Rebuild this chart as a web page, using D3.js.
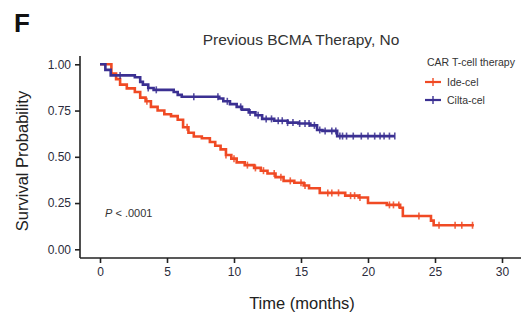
<!DOCTYPE html>
<html>
<head>
<meta charset="utf-8">
<script src="https://cdn.jsdelivr.net/npm/d3@7"></script>
<style>
  body { margin: 0; background: #fff; }
  svg { display: block; font-family: "Liberation Sans", Arial, sans-serif; }
</style>
</head>
<body>
<div id="chart"></div>
<script>
// step points [time, survival]
const ideSteps = [[0,1],[0.85,0.95],[1.2,0.92],[1.5,0.89],[2.0,0.87],[2.6,0.85],[3.0,0.82],[3.4,0.80],[3.8,0.77],
  [4.3,0.75],[4.8,0.73],[5.3,0.72],[5.8,0.70],[6.2,0.66],[6.6,0.63],[7.0,0.61],[7.6,0.60],[8.2,0.58],[8.6,0.56],
  [9.0,0.54],[9.4,0.51],[9.8,0.49],[10.2,0.47],[10.8,0.455],[11.5,0.44],[12.0,0.425],[12.5,0.41],[13.1,0.39],
  [13.7,0.37],[14.5,0.36],[15.2,0.345],[15.6,0.33],[16.4,0.305],[18.3,0.29],[19.3,0.28],[20.0,0.25],[21.4,0.24],
  [22.4,0.225],[22.6,0.18],[24.7,0.155],[24.9,0.13]];
const ideEnd = 27.9;
const ideCensor = [3.5,6.5,9.4,10.0,11.0,11.6,12.2,13.0,13.5,14.2,15.0,15.3,17.0,17.3,17.8,18.7,19.0,19.4,21.6,21.9,22.3,23.8,25.3,26.5,27.0,27.8];

const ciltaSteps = [[0,1],[0.4,0.97],[0.8,0.94],[2.6,0.93],[3.0,0.905],[3.2,0.89],[3.6,0.872],[4.0,0.862],[5.5,0.85],
  [5.8,0.835],[6.1,0.825],[8.9,0.815],[9.2,0.80],[9.7,0.785],[10.2,0.77],[10.6,0.755],[11.1,0.74],[11.6,0.725],
  [12.1,0.705],[13.0,0.695],[14.0,0.685],[14.8,0.68],[15.7,0.67],[16.2,0.645],[16.6,0.64],[17.7,0.612]];
const ciltaEnd = 22.0;
const ciltaCensor = [1.5,3.6,4.2,7.0,8.8,9.5,10.5,11.2,11.8,12.4,12.8,13.3,13.6,14.0,14.4,14.9,15.3,15.6,16.0,16.4,
  16.8,17.3,17.6,17.9,18.1,18.4,18.9,19.5,20.0,20.5,20.9,21.2,21.6,22.0];

const xTicks = [0, 5, 10, 15, 20, 25, 30];
const yTicks = [0, 0.25, 0.5, 0.75, 1];
const seriesNames = ["Ide-cel", "Cilta-cel"];
const colors = ["#f04a24", "#3b3092"];

const width = 521, height = 315;
const svg = d3.select("#chart").append("svg")
    .attr("width", width).attr("height", height);

const x = d3.scaleLinear().domain([0, 30]).range([100, 502]);
const y = d3.scaleLinear().domain([0, 1]).range([249.3, 64.3]);

// axes
const xAxis = svg.append("g").attr("transform", "translate(0,258)")
    .call(d3.axisBottom(x).tickValues(xTicks).tickSize(5).tickPadding(4));
xAxis.select(".domain").attr("d", "M80,0H521");
const yAxis = svg.append("g").attr("transform", "translate(80,0)")
    .call(d3.axisLeft(y).tickValues(yTicks).tickFormat(d3.format(".2f")).tickSize(5).tickPadding(4));
yAxis.select(".domain").attr("d", "M0,56V258");
svg.selectAll(".tick text").attr("font-size", 12).attr("fill", "#2b2b3b")
    .attr("font-family", "'Liberation Sans', Arial, sans-serif");
svg.selectAll(".domain, .tick line").attr("stroke", "#222").attr("stroke-width", 1.6);

// curves
const line = d3.line().curve(d3.curveStepAfter).x(d => x(d[0])).y(d => y(d[1]));
function stepAt(steps, t) {
  let s = 1;
  for (const p of steps) if (p[0] <= t) s = p[1];
  return s;
}
function drawSeries(steps, end, censor, color) {
  const pts = steps.concat([[end, steps[steps.length - 1][1]]]);
  svg.append("path").datum(pts).attr("d", line)
      .attr("fill", "none").attr("stroke", color).attr("stroke-width", 2.6);
  svg.append("g").selectAll("line").data(censor).join("line")
      .attr("x1", d => x(d)).attr("x2", d => x(d))
      .attr("y1", d => y(stepAt(steps, d)) - 3.5).attr("y2", d => y(stepAt(steps, d)) + 3.5)
      .attr("stroke", color).attr("stroke-width", 1.6).attr("opacity", 0.85);
}
drawSeries(ideSteps, ideEnd, ideCensor, colors[0]);
drawSeries(ciltaSteps, ciltaEnd, ciltaCensor, colors[1]);

// texts
svg.append("text").attr("x", 14).attr("y", 32).attr("font-size", 26).attr("font-weight", "bold")
    .attr("fill", "#111").text("F");
svg.append("text").attr("x", 301).attr("y", 45).attr("text-anchor", "middle").attr("font-size", 15.5)
    .attr("fill", "#333").text("Previous BCMA Therapy, No");
svg.append("text").attr("transform", "translate(28,161) rotate(-90)").attr("text-anchor", "middle")
    .attr("font-size", 16.5).attr("fill", "#222").text("Survival Probability");
svg.append("text").attr("x", 302).attr("y", 309).attr("text-anchor", "middle")
    .attr("font-size", 16.5).attr("fill", "#222").text("Time (months)");
const pText = svg.append("text").attr("x", 105).attr("y", 217).attr("font-size", 11).attr("fill", "#333");
pText.append("tspan").attr("font-style", "italic").text("P");
pText.append("tspan").text(" < .0001");

// legend
svg.append("text").attr("x", 427).attr("y", 66).attr("font-size", 10.5).attr("fill", "#333")
    .text("CAR T-cell therapy");
const leg = svg.append("g").selectAll("g").data(seriesNames).join("g")
    .attr("transform", (d, i) => `translate(425,${82 + i * 18})`);
leg.append("line").attr("x1", 0).attr("x2", 16).attr("stroke", (d, i) => colors[i]).attr("stroke-width", 2.2);
leg.append("line").attr("x1", 8).attr("x2", 8).attr("y1", -4).attr("y2", 4)
    .attr("stroke", (d, i) => colors[i]).attr("stroke-width", 1.4);
leg.append("text").attr("x", 22).attr("y", 3.5).attr("font-size", 10.5).attr("fill", "#333").text(d => d);
</script>
</body>
</html>
